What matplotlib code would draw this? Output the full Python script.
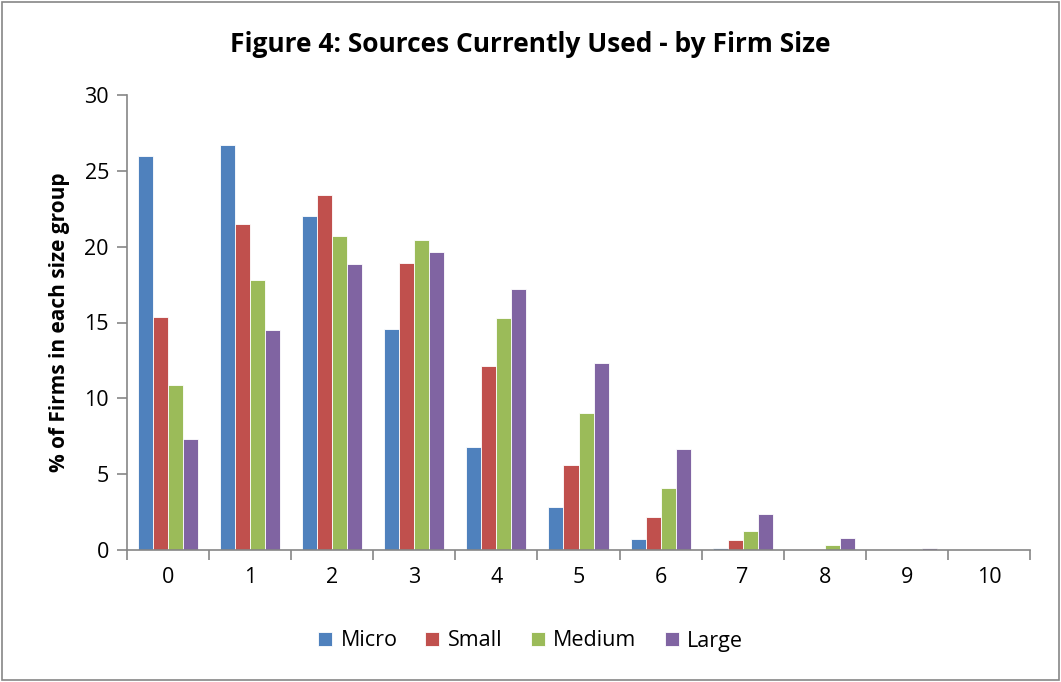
import matplotlib
matplotlib.use("Agg")
import matplotlib.pyplot as plt
import numpy as np
from matplotlib.patches import Rectangle

categories = ["0", "1", "2", "3", "4", "5", "6", "7", "8", "9", "10"]
series_names = ["Micro", "Small", "Medium", "Large"]
micro = [25.95, 26.7, 22.0, 14.6, 6.8, 2.85, 0.75, 0.1, 0.03, 0.02, 0.01]
small = [15.35, 21.5, 23.4, 18.95, 12.1, 5.6, 2.2, 0.65, 0.08, 0.02, 0.01]
medium = [10.9, 17.8, 20.7, 20.45, 15.3, 9.05, 4.1, 1.25, 0.3, 0.05, 0.02]
large = [7.3, 14.5, 18.85, 19.65, 17.2, 12.35, 6.65, 2.35, 0.8, 0.1, 0.02]
colors = ["#4F81BD", "#C0504D", "#9BBB59", "#8064A2"]

plt.rcParams['font.family'] = ['Open Sans', 'DejaVu Sans']

fig = plt.figure(figsize=(10.61, 6.82), dpi=100)
ax = fig.add_axes([127/1061, 1-550/682, (1030-127)/1061, (550-95)/682])

x = np.arange(len(categories))
bw = 0.183
data = [micro, small, medium, large]
for i, (vals, c, name) in enumerate(zip(data, colors, series_names)):
    ax.bar(x + (i - 1.5) * bw, vals, width=bw, color=c, edgecolor="#ffffff",
           linewidth=0.6, label=name, zorder=2)

ax.set_xlim(-0.5, len(categories) - 0.5)
ax.set_ylim(0, 30)
ax.set_yticks(range(0, 31, 5))
ax.set_xticks(x)
ax.set_xticklabels(categories)
ax.set_xticks(np.arange(-0.5, len(categories), 1), minor=True)
ax.tick_params(axis='x', which='major', length=0, labelsize=15.5, pad=12)
ax.tick_params(axis='x', which='minor', length=7, color="#868686", width=1.2)
ax.tick_params(axis='y', length=7, color="#868686", width=1.2, labelsize=15.5, pad=6)
for s in ["top", "right"]:
    ax.spines[s].set_visible(False)
for s in ["left", "bottom"]:
    ax.spines[s].set_color("#868686")
    ax.spines[s].set_linewidth(1.2)

ax.set_ylabel("% of Firms in each size group", fontsize=15, fontweight="bold", labelpad=10)
fig.text(0.5, 1-45/682, "Figure 4: Sources Currently Used - by Firm Size",
         ha="center", va="center", fontsize=19, fontweight="bold")

leg = fig.legend(loc="center", bbox_to_anchor=(0.5, 1-641/682), ncol=4, frameon=False,
                 fontsize=15.5, handlelength=0.65, handleheight=0.65, columnspacing=1.3,
                 handletextpad=0.4)

fig.patches.append(Rectangle((0.002, 0.003), 0.996, 0.994, transform=fig.transFigure,
                             fill=False, edgecolor="#868686", linewidth=1.2))

fig.savefig("out.png", dpi=100)
